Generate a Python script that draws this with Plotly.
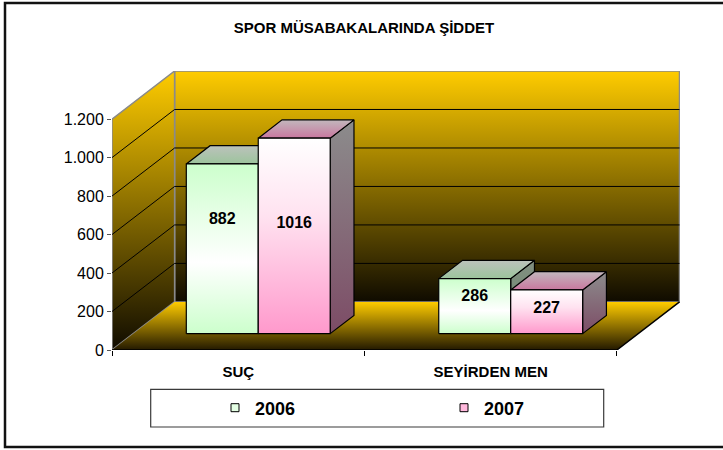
import plotly.graph_objects as go

# ---- data ----
categories = ["SUÇ", "SEYİRDEN MEN"]
series_names = ["2006", "2007"]
values_2006 = [882, 286]
values_2007 = [1016, 227]
y_ticks = [0, 200, 400, 600, 800, 1000, 1200]
title_text = "SPOR MÜSABAKALARINDA ŞİDDET"

# ---- 3D box geometry (data units) ----
DX, DY = 0.248, 250          # depth offset of the back wall
WALL_TOP = 1200
GAP, BAR_W = 0.21, 0.285     # category gap / bar width
F0, FD = 0.34, 0.38          # bar front depth fraction / bar depth fraction

W, H = 723, 450
L, R, T, B = 112, 43, 71, 100
PW, PH = W - L - R, H - T - B

def px2x(px):
    return (px - L) / PW

def py2y(py):
    return (H - B - py) / PH

FONT = "Arial, Liberation Sans, sans-serif"

fig = go.Figure()

def poly(xs, ys, scale, line_color, line_w=1.0):
    fig.add_trace(go.Scatter(
        x=xs + [xs[0]], y=ys + [ys[0]], mode="lines", fill="toself",
        fillgradient=dict(type="vertical", colorscale=scale),
        line=dict(color=line_color, width=line_w),
        hoverinfo="skip", showlegend=False))

def segs(points_list, color, width):
    xs, ys = [], []
    for pts in points_list:
        for (x, y) in pts:
            xs.append(x); ys.append(y)
        xs.append(None); ys.append(None)
    fig.add_trace(go.Scatter(x=xs, y=ys, mode="lines",
                             line=dict(color=color, width=width),
                             hoverinfo="skip", showlegend=False))

wall_scale = [[0, "rgb(15,11,0)"], [1, "rgb(255,204,0)"]]
n_cat = len(categories)

# back wall
poly([DX, n_cat + DX, n_cat + DX, DX], [DY, DY, WALL_TOP + DY, WALL_TOP + DY],
     wall_scale, "#8a8a8a", 1.5)
# left wall
poly([0, DX, DX, 0], [0, DY, WALL_TOP + DY, WALL_TOP], wall_scale, "#8a8a8a", 1.5)
# floor
poly([0, n_cat, n_cat + DX, DX], [0, 0, DY, DY],
     [[0, "rgb(35,25,0)"], [1, "rgb(255,204,0)"]], "rgba(0,0,0,0)", 0)

# gridlines on back and left walls
grid = []
for v in y_ticks[1:-1]:
    grid.append([(DX, v + DY), (n_cat + DX, v + DY)])
    grid.append([(0, v), (DX, v + DY)])
segs(grid, "black", 1)
# floor front and right edges
segs([[(0, 0), (n_cat, 0), (n_cat + DX, DY)]], "black", 1.5)

# ---- bars ----
front_scales = [
    [[0, "#CCFFCC"], [0.42, "#FFFFFF"], [1, "#CCFFCC"]],
    [[0, "#FF99CC"], [0.6, "#FFE2F0"], [1, "#FFFFFF"]],
]
top_scales = [
    [[0, "#9CC49C"], [1, "#BCC2BC"]],
    [[0, "#C9779F"], [1, "#C2B8BD"]],
]
side_scales = [
    [[0, "#6B8A6B"], [1, "#828F82"]],
    [[0, "#7D4C66"], [1, "#8C8C8C"]],
]
label_frac = [0.67, 0.56]
all_values = [values_2006, values_2007]

sx0, sy0 = DX * F0, DY * F0
sx1, sy1 = DX * (F0 + FD), DY * (F0 + FD)

lab_x = [[], []]
lab_y = [[], []]
for i in range(n_cat):
    for j, vals in enumerate(all_values):
        v = vals[i]
        x0 = i + GAP + j * BAR_W
        x1 = x0 + BAR_W
        # side face
        poly([x1 + sx0, x1 + sx1, x1 + sx1, x1 + sx0],
             [sy0, sy1, sy1 + v, sy0 + v], side_scales[j], "black", 1.2)
        # top face
        poly([x0 + sx0, x1 + sx0, x1 + sx1, x0 + sx1],
             [sy0 + v, sy0 + v, sy1 + v, sy1 + v], top_scales[j], "black", 1.2)
        # front face
        poly([x0 + sx0, x1 + sx0, x1 + sx0, x0 + sx0],
             [sy0, sy0, sy0 + v, sy0 + v], front_scales[j], "black", 1.2)
        lab_x[j].append((x0 + x1) / 2 + sx0)
        lab_y[j].append(sy0 + v * label_frac[j])

for j, vals in enumerate(all_values):
    fig.add_trace(go.Scatter(
        x=lab_x[j], y=lab_y[j], mode="text", text=[str(v) for v in vals],
        textposition="middle center",
        textfont=dict(family=FONT, size=16, color="black", weight="bold"),
        hoverinfo="skip", showlegend=False))

# legend entries
legend_colors = ["#E4FFE4", "#FFB8DC"]
for name, col in zip(series_names, legend_colors):
    fig.add_trace(go.Scatter(
        x=[None], y=[None], mode="markers", name=name,
        marker=dict(symbol="square", size=8, color=col,
                    line=dict(color="black", width=1))))

shapes = [
    # legend frame
    dict(type="rect", xref="paper", yref="paper",
         x0=px2x(150.7), x1=px2x(603.7), y0=py2y(427), y1=py2y(389.3),
         line=dict(color="#3a3a3a", width=1.2), fillcolor="white", layer="below"),
    # outer chart frame
    dict(type="rect", xref="paper", yref="paper",
         x0=px2x(5), x1=px2x(760), y0=py2y(447), y1=py2y(3),
         line=dict(color="#111111", width=2.5), fillcolor="rgba(0,0,0,0)"),
]

fig.update_layout(
    width=W, height=H,
    margin=dict(l=L, r=R, t=T, b=B, autoexpand=False),
    paper_bgcolor="white", plot_bgcolor="white",
    separators=",.",
    title=dict(text=title_text, x=364 / W, xanchor="center",
               y=1 - 28 / H, yanchor="middle", yref="container",
               font=dict(family=FONT, size=15, color="black", weight="bold")),
    xaxis=dict(range=[0, 2.25], showgrid=False, zeroline=False, showline=False,
               tickvals=[k + 0.5 for k in range(n_cat)], ticktext=categories,
               ticks="", ticklabelstandoff=11,
               tickfont=dict(family=FONT, size=15, color="black", weight="bold"),
               minor=dict(tickvals=list(range(n_cat + 1)), ticks="outside",
                          ticklen=5, tickcolor="black", tickwidth=1, showgrid=False),
               fixedrange=True),
    yaxis=dict(range=[0, WALL_TOP + DY], showgrid=False, zeroline=False,
               showline=False, tickvals=y_ticks, tickformat=",d",
               ticks="outside", ticklen=4, tickcolor="#555555",
               tickfont=dict(family=FONT, size=16, color="black"),
               automargin=False, fixedrange=True),
    legend=dict(orientation="h", x=px2x(215), xanchor="left",
                y=py2y(408), yanchor="middle",
                entrywidth=184, entrywidthmode="pixels",
                bgcolor="rgba(0,0,0,0)", borderwidth=0,
                font=dict(family=FONT, size=18, color="black", weight="bold")),
    shapes=shapes,
    showlegend=True,
)

fig.write_html("out.html")
